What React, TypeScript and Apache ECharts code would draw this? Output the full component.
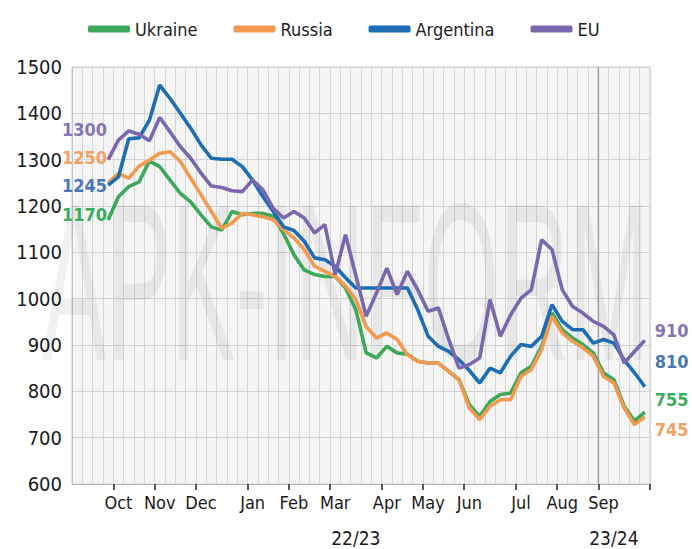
import React, { useEffect, useRef } from "react";
import * as echarts from "echarts";

// ---- data ----
const months = ["Oct", "Nov", "Dec", "Jan", "Feb", "Mar", "Apr", "May", "Jun", "Jul", "Aug", "Sep"];
const monthWeek = [4, 8, 12, 17, 21, 25, 30, 34, 38, 43, 47, 51];
const weekCount = 56;
const firstWeek = 3;

const ukraine = [
  1170, 1220, 1242, 1252, 1297, 1285, 1256, 1227, 1209, 1181,
  1155, 1148, 1188, 1181, 1184, 1184, 1178, 1140, 1095, 1062,
  1052, 1048, 1048, 1023, 976, 883, 872, 897, 883, 880,
  865, 861, 861, 843, 825, 771, 746, 778, 793, 796,
  840, 854, 897, 969, 933, 915, 901, 883, 840, 825,
  768, 736, 755,
];
const russia = [
  1250, 1270, 1260, 1286, 1299, 1314, 1317, 1296, 1260, 1224,
  1188, 1152, 1163, 1184, 1181, 1177, 1170, 1149, 1131, 1106,
  1070, 1059, 1048, 1027, 998, 940, 915, 926, 912, 879,
  865, 861, 861, 843, 825, 764, 739, 768, 782, 782,
  832, 847, 890, 962, 926, 908, 894, 876, 832, 818,
  764, 728, 745,
];
const argentina = [
  1245, 1263, 1345, 1347, 1385, 1461, 1432, 1400, 1368, 1332,
  1303, 1301, 1301, 1285, 1256, 1220, 1188, 1155, 1147, 1124,
  1088, 1084, 1070, 1045, 1023, 1023, 1023, 1023, 1023, 1023,
  976, 919, 897, 886, 868, 845, 818, 850, 840, 876,
  901, 897, 919, 987, 951, 933, 933, 904, 912, 904,
  868, 840, 810,
];
const eu = [
  1300, 1342, 1362, 1355, 1341, 1391, 1360, 1328, 1303, 1271,
  1243, 1240, 1233, 1231, 1256, 1235, 1195, 1174, 1188, 1174,
  1142, 1160, 1052, 1138, 1050, 962, 1012, 1066, 1009, 1059,
  1019, 973, 980, 912, 850, 858, 872, 998, 919, 965,
  1001, 1019, 1127, 1106, 1019, 983, 969, 951, 940, 922,
  861, 886, 910,
];

const seasonLabels = ["22/23", "23/24"];
const seasonLabelWeek = [27, 52];
const separatorWeek = 51;

const NARROW = "'DejaVu Sans Condensed', 'Liberation Sans', sans-serif";

const seriesDefs = [
  { name: "Ukraine", values: ukraine, color: "#3ca85a", labelColor: "#3aad5a", startOffset: -5, endOffset: -13 },
  { name: "Russia", values: russia, color: "#f39a50", labelColor: "#f4a061", startOffset: -25, endOffset: 13 },
  { name: "Argentina", values: argentina, color: "#1d6db4", labelColor: "#4a78b8", startOffset: 0, endOffset: -25 },
  { name: "EU", values: eu, color: "#7b67ae", labelColor: "#8674b6", startOffset: -30, endOffset: -10 },
];

const weekLabels = Array.from({ length: weekCount }, (_, i) => {
  const k = monthWeek.indexOf(i);
  return k >= 0 ? months[k] : "w" + i;
});

function buildData(values: number[], d: any) {
  const arr: any[] = new Array(weekCount).fill(null);
  values.forEach((v, i) => {
    arr[firstWeek + i] = v;
  });
  const lastIdx = firstWeek + values.length - 1;
  const lbl = {
    show: true,
    color: d.labelColor,
    fontSize: 18,
    fontWeight: "bold",
    fontFamily: NARROW,
  };
  arr[firstWeek] = {
    value: values[0],
    label: { ...lbl, position: "left", distance: 1, offset: [0, d.startOffset], formatter: String(values[0]) },
  };
  arr[lastIdx] = {
    value: values[values.length - 1],
    label: {
      ...lbl,
      position: "right",
      distance: 10,
      offset: [0, d.endOffset],
      formatter: String(values[values.length - 1]),
    },
  };
  return arr;
}

export default function App() {
  const ref = useRef<HTMLDivElement>(null);
  useEffect(() => {
    if (!ref.current) return;
    const chart = echarts.init(ref.current, null, { renderer: "svg" });
    const option: any = {
      animation: false,
      backgroundColor: "#ffffff",
      grid: {
        left: 72,
        right: 42,
        top: 67,
        bottom: 65,
        show: true,
        backgroundColor: "#f5f5f5",
        borderColor: "#cfcfcf",
        borderWidth: 1,
      },
      legend: {
        top: 15,
        left: 83,
        itemWidth: 42,
        itemHeight: 7,
        itemGap: 36,
        icon: "roundRect",
        textStyle: { fontSize: 18, color: "#222", fontFamily: NARROW },
        data: seriesDefs.map((d) => d.name),
      },
      xAxis: {
        type: "category",
        data: weekLabels,
        boundaryGap: true,
        axisLine: { show: true, lineStyle: { color: "#bdbdbd" } },
        axisTick: {
          show: true,
          interval: (i: number) => monthWeek.indexOf(i) >= 0,
          length: 6,
          lineStyle: { color: "#222", width: 1.5 },
        },
        axisLabel: {
          interval: (i: number) => monthWeek.indexOf(i) >= 0,
          fontSize: 18,
          color: "#1a1a1a",
          fontFamily: NARROW,
          margin: 9,
        },
        splitLine: { show: true, interval: 0, lineStyle: { color: "#d6d6d6", width: 1 } },
      },
      yAxis: {
        type: "value",
        min: 600,
        max: 1500,
        interval: 100,
        axisLine: { show: true, lineStyle: { color: "#b9c5d6" } },
        axisTick: { show: false },
        axisLabel: {
          fontSize: 20,
          color: "#1a1a1a",
          fontFamily: NARROW,
          margin: 10,
          formatter: (v: number) => String(v),
        },
        splitLine: { show: true, lineStyle: { color: "#d2d2d2" } },
      },
      series: seriesDefs.map((d) => ({
        name: d.name,
        type: "line",
        data: buildData(d.values, d),
        color: d.color,
        symbol: "circle",
        symbolSize: 0,
        showSymbol: true,
        showAllSymbol: true,
        lineStyle: { width: 3.6, color: d.color },
        itemStyle: { color: d.color },
        z: 3,
      })),
    };
    chart.setOption(option);

    const x0 = chart.convertToPixel({ xAxisIndex: 0 }, 0) as number;
    const x1 = chart.convertToPixel({ xAxisIndex: 0 }, 1) as number;
    const band = x1 - x0;
    const sepX = (chart.convertToPixel({ xAxisIndex: 0 }, separatorWeek) as number) - band / 2;
    const yTop = chart.convertToPixel({ yAxisIndex: 0 }, 1500) as number;
    const yBot = chart.convertToPixel({ yAxisIndex: 0 }, 600) as number;

    chart.setOption({
      graphic: [
        {
          type: "text",
          x: 42,
          y: 282,
          scaleX: 0.43,
          z: 1,
          silent: true,
          style: {
            text: "APK-INFORM",
            fontSize: 225,
            fontFamily: "'Liberation Sans', sans-serif",
            fill: "rgba(0,0,0,0.055)",
            verticalAlign: "middle",
          },
        },
        {
          type: "line",
          z: 1,
          shape: { x1: sepX, y1: yTop, x2: sepX, y2: yBot },
          style: { stroke: "#a0a0a0", lineWidth: 1.5 },
        },
        ...seasonLabels.map((t, k) => ({
          type: "text",
          x: chart.convertToPixel({ xAxisIndex: 0 }, seasonLabelWeek[k]) as number,
          y: yBot + 54,
          style: {
            text: t,
            fontSize: 19,
            fontFamily: NARROW,
            fill: "#1a1a1a",
            align: "center",
            verticalAlign: "middle",
          },
        })),
      ],
    });

    return () => chart.dispose();
  }, []);
  return (
    <div
      ref={ref}
      style={{ position: "fixed", left: 0, top: 0, width: 692, height: 549, background: "#fff" }}
    />
  );
}
